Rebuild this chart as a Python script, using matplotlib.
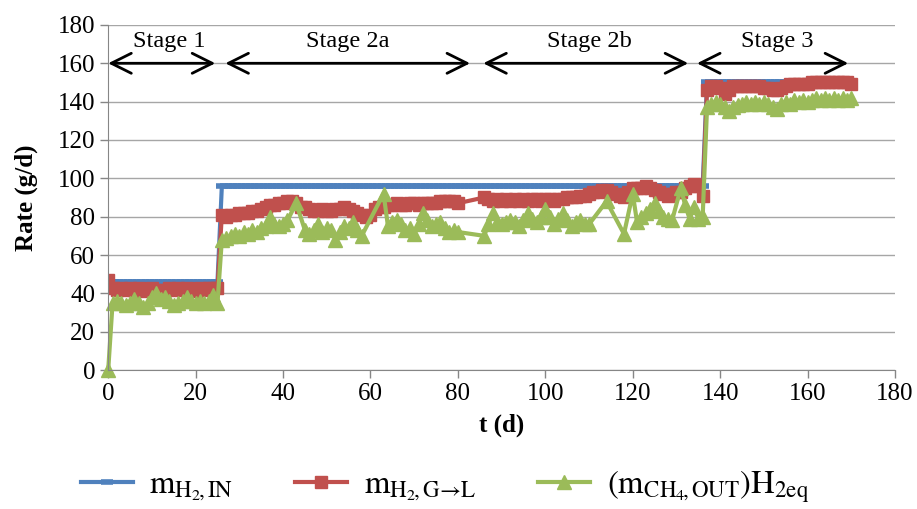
import matplotlib
matplotlib.use("Agg")
import matplotlib.pyplot as plt

plt.rcParams['font.family'] = ['Liberation Serif', 'DejaVu Serif']
plt.rcParams['mathtext.fontset'] = 'stix'

# H2 fed (g/d)
blue_days = list(range(1, 171))
blue_vals = [46] * 25 + [96] * 111 + [150] * 34

# H2 transferred gas -> liquid (g/d)
red_days = list(range(0, 81)) + list(range(86, 171))
red_vals = [47, 43, 42, 43, 42, 43, 42, 43, 41, 42,
            43, 42, 41, 42, 43, 42, 43, 42, 43, 42,
            41, 43, 42, 43, 43, 43,
            81, 80, 81, 81, 82, 82, 82, 83, 83, 84,
            85, 86, 86, 87, 87, 88, 88, 87, 85, 85,
            84, 83, 83, 84, 83, 83, 84, 84, 85, 84,
            83, 82, 81, 80, 81, 84, 85, 85, 86, 86,
            87, 86, 86, 87, 87, 86, 87, 87, 87, 87,
            88, 88, 88, 88, 87,
            90, 89, 88, 89, 88, 89, 88, 89, 88, 89,
            88, 89, 89, 88, 89, 89, 88, 89, 89, 90,
            90, 90, 91, 91, 92, 93, 93, 94, 94, 93,
            92, 91, 90, 93, 95, 95, 95, 96, 95, 94,
            93, 92, 91, 92, 93, 93, 95, 96, 97, 96,
            91,
            146, 148, 148, 147, 144, 146, 148, 148, 148, 148,
            148, 148, 148, 147, 147, 146, 146, 147, 148, 149,
            149, 149, 149, 149, 150, 150, 150, 150, 150, 150,
            150, 150, 150, 149]

# CH4 out expressed as H2 equivalent (g/d)
green_days = (list(range(0, 42)) + [43] + list(range(45, 59)) + list(range(63, 81))
              + list(range(86, 111)) + [114, 118] + list(range(120, 130))
              + list(range(131, 171)))
green_vals = [0, 35, 36, 35, 34, 35, 37, 35, 33, 35,
              38, 40, 37, 38, 36, 34, 35, 36, 38, 36,
              35, 36, 35, 36, 39, 35,
              68, 69, 70, 71, 70, 72, 71, 73, 72, 74,
              75, 80, 76, 75, 76, 78,
              87,
              73, 71, 73, 76, 72, 74, 73, 68, 72, 75,
              74, 77, 73, 70,
              92, 75, 77, 78, 76, 73, 74, 71, 76, 82,
              78, 75, 76, 77, 74, 72, 73, 72,
              70, 76, 82, 77, 76, 77, 78, 77, 75, 78,
              82, 79, 77, 80, 84, 80, 76, 79, 82, 78,
              75, 77, 78, 76, 76,
              88, 71,
              92, 77, 80, 82, 84, 87, 83, 80, 79, 78,
              95, 86, 79, 85, 79, 80,
              137, 139, 140, 139, 137, 135, 137, 138, 139, 140,
              139, 140, 139, 140, 139, 137, 136, 139, 140, 139,
              141, 140, 141, 140, 141, 142, 141, 142, 141, 142,
              141, 142, 141, 142]

stage_names = ['Stage 1', 'Stage 2a', 'Stage 2b', 'Stage 3']
stage_starts = [0, 26.8, 85.8, 134.7]
stage_ends = [24.5, 82.8, 132.7, 169.3]
stage_label_x = [14, 54.7, 110, 153]
stage_y = 160

fig = plt.figure(figsize=(9.17, 5.09), dpi=100)
ax = fig.add_axes([0.118, 0.273, 0.858, 0.678])

ax.plot(blue_days, blue_vals, color='#4F81BD', lw=3, marker='_', ms=9, mew=4,
        label=r'$\mathrm{m_{H_2\!,IN}}$')
ax.plot(red_days, red_vals, color='#C0504D', lw=3, marker='s', ms=8.5,
        label=r'$\mathrm{m_{H_2\!,G\!\rightarrow\! L}}$')
ax.plot(green_days, green_vals, color='#9BBB59', lw=3, marker='^', ms=9.5,
        clip_on=False, label=r'$\mathrm{(m_{CH_4\!,OUT})H_{2eq}}$')

for name, x0, x1, xl in zip(stage_names, stage_starts, stage_ends, stage_label_x):
    ax.annotate('', xy=(x1, stage_y), xytext=(x0, stage_y),
                arrowprops=dict(arrowstyle='<->', lw=2, color='black',
                                mutation_scale=36, shrinkA=0, shrinkB=0))
    ax.text(xl, 171.5, name, ha='center', va='center', fontsize=17.5)

ax.set_xlim(0, 180)
ax.set_ylim(0, 180)
ax.set_xticks(range(0, 181, 20))
ax.set_yticks(range(0, 181, 20))
ax.tick_params(axis='both', labelsize=18, direction='out', length=6,
               color='#868686', width=1)
ax.grid(axis='y', color='#a6a6a6', lw=1)
ax.set_axisbelow(True)
for s in ['top', 'right']:
    ax.spines[s].set_visible(False)
for s in ['left', 'bottom']:
    ax.spines[s].set_color('#868686')

ax.set_xlabel('t (d)', fontsize=18, fontweight='bold', labelpad=6)
ax.set_ylabel('Rate (g/d)', fontsize=18, fontweight='bold', labelpad=14)

fig.legend(loc='lower center', bbox_to_anchor=(0.485, -0.05), ncol=3, frameon=False,
           fontsize=23.5, handlelength=1.6, handletextpad=0.5, columnspacing=1.9)

fig.savefig('out.png', dpi=100)
